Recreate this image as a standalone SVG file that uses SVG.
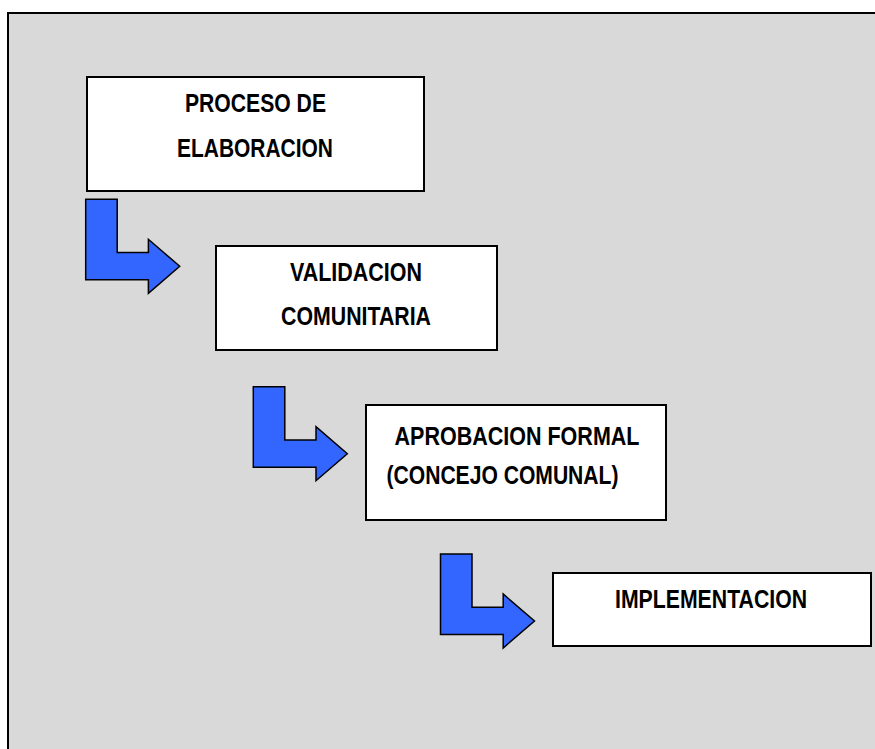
<svg xmlns="http://www.w3.org/2000/svg" xmlns:xlink="http://www.w3.org/1999/xlink" width="875" height="749" viewBox="0 0 875 749">
  <style>
    .frame { fill: #d9d9d9; stroke: #000; stroke-width: 2; }
    .box { fill: #fff; stroke: #000; stroke-width: 2; }
    .arrow { fill: #3366ff; stroke: #000; stroke-width: 1.5; stroke-linejoin: miter; }
    .lbl { font-family: "Liberation Sans Narrow", "Liberation Sans", Arial, sans-serif; font-weight: bold; font-size: 25px; fill: #000; }
  </style>
  <defs>
    <path id="larrow" d="M0,0 H31.5 V53.3 H62.7 V40 L94,67 L62.7,94 V80.5 H0 Z"/>
  </defs>
  <rect width="875" height="749" fill="#fff"/>
  <rect class="frame" x="8" y="13" width="880" height="760"/>

  <g id="connectors">
    <use href="#larrow" xlink:href="#larrow" class="arrow" transform="translate(85.7,199.3)"/>
    <use href="#larrow" xlink:href="#larrow" class="arrow" transform="translate(253.3,386.7)"/>
    <use href="#larrow" xlink:href="#larrow" class="arrow" transform="translate(440.5,554)"/>
  </g>

  <g id="node-elaboracion">
    <rect class="box" x="87" y="77" width="337" height="114"/>
    <text class="lbl" x="185" y="112" textLength="141" lengthAdjust="spacingAndGlyphs">PROCESO DE</text>
    <text class="lbl" x="177" y="157" textLength="156" lengthAdjust="spacingAndGlyphs">ELABORACION</text>
  </g>

  <g id="node-validacion">
    <rect class="box" x="216" y="246" width="281" height="104"/>
    <text class="lbl" x="290" y="280.5" textLength="132" lengthAdjust="spacingAndGlyphs">VALIDACION</text>
    <text class="lbl" x="281" y="325" textLength="150" lengthAdjust="spacingAndGlyphs">COMUNITARIA</text>
  </g>

  <g id="node-aprobacion">
    <rect class="box" x="366" y="405" width="300" height="115"/>
    <text class="lbl" x="394.5" y="445" textLength="245" lengthAdjust="spacingAndGlyphs">APROBACION FORMAL</text>
    <text class="lbl" x="386.5" y="484" textLength="232" lengthAdjust="spacingAndGlyphs">(CONCEJO COMUNAL)</text>
  </g>

  <g id="node-implementacion">
    <rect class="box" x="553" y="573" width="318" height="73"/>
    <text class="lbl" x="615" y="607.5" textLength="192" lengthAdjust="spacingAndGlyphs">IMPLEMENTACION</text>
  </g>
</svg>
